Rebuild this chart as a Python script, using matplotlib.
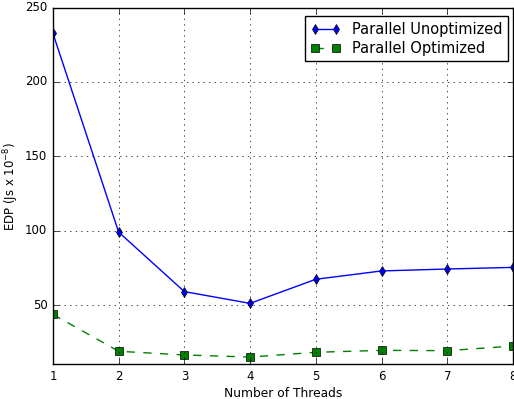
import matplotlib
matplotlib.use('Agg')
import matplotlib.pyplot as plt

# Data ---
threads = [1, 2, 3, 4, 5, 6, 7, 8]
edp_unoptimized = [232.7, 99.0, 59.0, 51.1, 67.3, 72.9, 74.2, 75.3]
edp_optimized = [43.7, 18.9, 16.4, 15.0, 18.2, 19.5, 19.3, 22.4]

plt.style.use('classic')
plt.rcParams['mathtext.fontset'] = 'dejavusans'

fig = plt.figure(figsize=(5.14, 3.99), dpi=100, facecolor='white')
ax = fig.add_axes([0.103, 0.0865, 0.895, 0.8945])

ax.plot(threads, edp_unoptimized, 'b-', marker='d', markersize=5,
        label='Parallel Unoptimized')
ax.plot(threads, edp_optimized, 'g--', marker='s', markersize=5.5,
        label='Parallel Optimized')

ax.set_xlim(1, 8)
ax.set_ylim(10, 250)
ax.set_yticks([50, 100, 150, 200, 250])
ax.set_xlabel('Number of Threads', fontsize=8.8, labelpad=3)
ax.set_ylabel(r'EDP (Js x 10$^{-8}$)', fontsize=8.5, labelpad=3)
ax.tick_params(labelsize=8.5)
ax.grid(True, color='black', linestyle=':')

ax.legend(loc='upper right', bbox_to_anchor=(0.989, 0.976), borderaxespad=0,
          fontsize=10.5, numpoints=2, handlelength=2.0, labelspacing=0.25)

fig.savefig('out.png', dpi=100, facecolor='white')
